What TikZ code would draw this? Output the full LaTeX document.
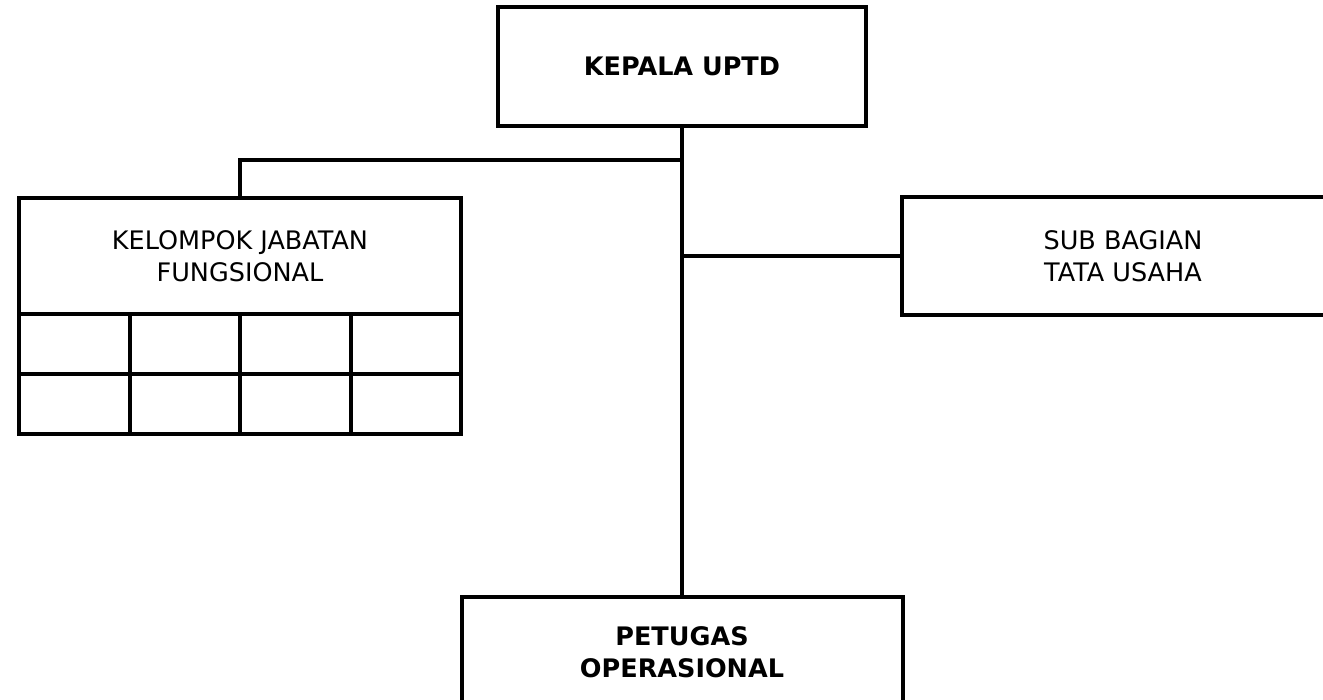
\documentclass[tikz,border=0pt]{standalone}
\usepackage{fontspec}
\setmainfont{DejaVu Sans}
\usetikzlibrary{positioning}

\begin{document}
\begin{tikzpicture}[x=1pt, y=-1pt, line width=4pt,
  unit/.style={draw, rectangle, align=center, font=\fontsize{25.5}{32}\selectfont, inner sep=0pt},
  cell/.style={draw, rectangle, minimum width=110.5pt, minimum height=60pt, inner sep=0pt}]

\useasboundingbox (0,0) rectangle (1323,700);

% Units
\node[unit, minimum width=368pt, minimum height=119pt, font=\fontsize{25.5}{32}\selectfont\bfseries] (boss) at (682,66.5) {KEPALA UPTD};
\node[unit, minimum width=442pt, minimum height=116pt] (jabfung) at (240,256) {KELOMPOK JABATAN\\FUNGSIONAL};
\node[unit, minimum width=442pt, minimum height=118pt] (subbag) at (1123,256) {SUB BAGIAN\\TATA USAHA};
\node[unit, minimum width=441pt, minimum height=110pt, font=\fontsize{25.5}{32}\selectfont\bfseries] (petugas) at (682,652) {PETUGAS\\OPERASIONAL};

% Cells under the functional group
\foreach \r in {1,2}
  \foreach \c in {1,...,4}
    \node[cell] (cell\r\c) at ({19+110.5*(\c-0.5)},{314+60*(\r-0.5)}) {};

% Lines
\coordinate (fork) at (682,160);
\draw (boss.south) -- (petugas.north);
\draw (fork) -| (jabfung.north);
\draw (subbag.west) -- (subbag.west -| boss.south);

\end{tikzpicture}
\end{document}
